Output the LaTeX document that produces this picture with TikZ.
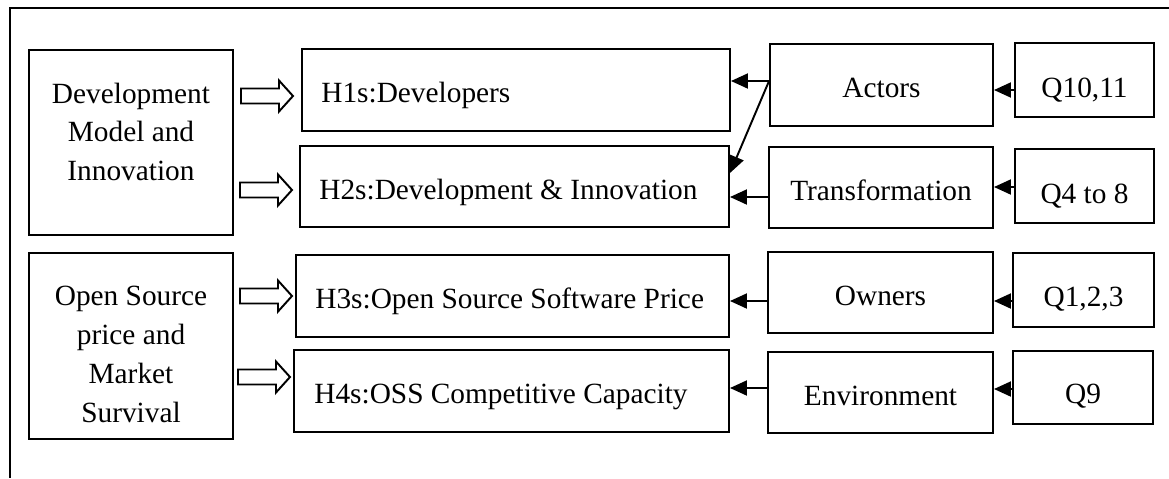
\documentclass[tikz,border=0pt]{standalone}
\usepackage{fontspec}
\setmainfont{Liberation Serif}
\usetikzlibrary{arrows.meta,fit}
\begin{document}
\begin{tikzpicture}[x=0.02cm,y=-0.02cm,
  box/.style={draw, line width=1.1pt, inner sep=0pt},
  txt/.style={inner sep=0pt, font=\fontsize{16.7}{21.9}\selectfont},
  conn/.style={line width=1.1pt, -{Triangle[length=0.34cm,width=0.3cm]}},
  hollow/.pic={\draw[line width=1.1pt, line join=miter] (0,-7.5) -- (38,-7.5) -- (38,-15.5) -- (52,0) -- (38,15.5) -- (38,7.5) -- (0,7.5) -- cycle;}]
\useasboundingbox (0,0) rectangle (1169,478);
\draw[line width=1.1pt] (1169,8) -- (10,8) -- (10,478);

% left boxes
\node[box, fit={(29,50) (233,235)}] (L1) {};
\node[box, fit={(29,253) (233,439)}] (L2) {};
\node[txt, anchor=base] (L1a) at (131,103) {Development};
\node[txt, anchor=base] (L1b) at (131,141.5) {Model and};
\node[txt, anchor=base] (L1c) at (131,180) {Innovation};
\node[txt, anchor=base] (L2a) at (131,305) {Open Source};
\node[txt, anchor=base] (L2b) at (131,344) {price and};
\node[txt, anchor=base] (L2c) at (131,383) {Market};
\node[txt, anchor=base] (L2d) at (131,422) {Survival};

% hypothesis boxes
\node[box, fit={(302,49) (730,131)}] (H1) {};
\node[box, fit={(300,146) (729,227)}] (H2) {};
\node[box, fit={(296,255) (729,337)}] (H3) {};
\node[box, fit={(294,350) (729,432)}] (H4) {};
\node[txt, anchor=base west] (H1t) at (321,102) {H1s:Developers};
\node[txt, anchor=base west] (H2t) at (319,199) {H2s:Development \& Innovation};
\node[txt, anchor=base west] (H3t) at (315,308) {H3s:Open Source Software Price};
\node[txt, anchor=base west] (H4t) at (314,403) {H4s:OSS Competitive Capacity};

% middle boxes
\node[box, fit={(770,44) (993,126)}] (Actors) {};
\node[box, fit={(769,147) (993,228)}] (Trans) {};
\node[box, fit={(768,252) (993,333)}] (Owners) {};
\node[box, fit={(768,352) (993,433)}] (Env) {};
\node[txt, anchor=base] (Actorst) at (881.5,97) {Actors};
\node[txt, anchor=base] (Transt) at (881,200) {Transformation};
\node[txt, anchor=base] (Ownerst) at (880.5,305) {Owners};
\node[txt, anchor=base] (Envt) at (880.5,405) {Environment};

% question boxes
\node[box, fit={(1015,43) (1154,117)}] (Q1) {};
\node[box, fit={(1015,149) (1154,223)}] (Q2) {};
\node[box, fit={(1013,253) (1154,327)}] (Q3) {};
\node[box, fit={(1013,351) (1153,424)}] (Q4) {};
\node[txt, anchor=base] (Q1t) at (1084.5,97) {Q10,11};
\node[txt, anchor=base] (Q2t) at (1084.5,203) {Q4 to 8};
\node[txt, anchor=base] (Q3t) at (1083.5,306) {Q1,2,3};
\node[txt, anchor=base] (Q4t) at (1083,403) {Q9};

% hollow arrows
\pic (A1) at (241,96) {hollow};
\pic (A2) at (240,190) {hollow};
\pic (A3) at (240,296) {hollow};
\pic (A4) at (238,377) {hollow};

% connectors
\draw[conn] (Q1.west |- 0,90) -- (Actors.east |- 0,90);
\draw[conn] (Q2.west |- 0,187) -- (Trans.east |- 0,187);
\draw[conn] (Q3.west |- 0,301) -- (Owners.east |- 0,301);
\draw[conn] (Q4.west |- 0,389) -- (Env.east |- 0,389);
\draw[conn] (Actors.west |- 0,81) -- (H1.east |- 0,81);
\draw[conn] (Actors.west |- 0,81) -- (H2.east |- 0,173);
\draw[conn] (Trans.west |- 0,197) -- (H2.east |- 0,197);
\draw[conn] (Owners.west |- 0,301) -- (H3.east |- 0,301);
\draw[conn] (Env.west |- 0,388) -- (H4.east |- 0,388);
\end{tikzpicture}
\end{document}
